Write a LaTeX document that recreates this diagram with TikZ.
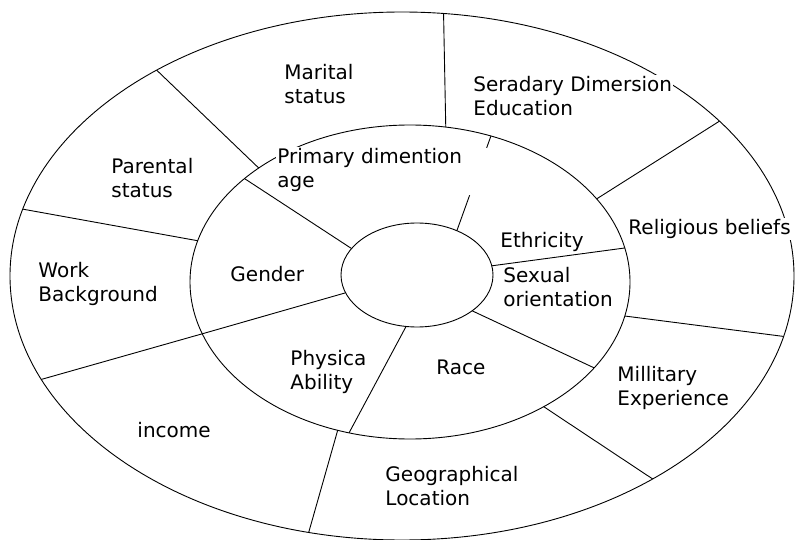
\documentclass[tikz,border=0pt]{standalone}
\usepackage{fontspec}
\setmainfont{DejaVu Sans}
\usetikzlibrary{shapes.geometric,calc}
\begin{document}
\begin{tikzpicture}[x=1pt,y=-1pt,line width=0.9pt,
    ring/.style={draw,ellipse,inner sep=0pt,outer sep=0pt},
    lbl/.style={fill=white,inner sep=1pt,align=left,anchor=west,font=\fontsize{20}{24}\selectfont}]
\useasboundingbox (0,0) rectangle (795,540);
\node[ring,minimum width=784pt,minimum height=528pt] (outer) at (402,276) {};
\node[ring,minimum width=440pt,minimum height=314pt] (middle) at (410,282) {};
\node[ring,minimum width=152pt,minimum height=104pt] (inner) at (417,275) {};
\draw (outer.140.6) -- (middle.143.3);
\draw (outer.81.4) -- (middle.77.3);
\draw (outer.26) -- (middle.24.8);
\draw (outer.-9) -- (middle.-9.5);
\draw (outer.-39.2) -- (middle.-43);
\draw (outer.-110.2) -- (middle.-116.9);
\draw (outer.-164.3) -- (middle.-166.7);
\draw (outer.170.5) -- (middle.169.7);
\draw (middle.148.3) -- (inner.158.1);
\draw (middle.-166.7) -- (inner.-166);
\draw (middle.-112.6) -- (inner.-102.8);
\draw (middle.-25.7) -- (inner.-33.2);
\draw (middle.9.2) -- (inner.7.7);
\draw (inner.48.5) -- ($(inner.48.5)!.375!(middle.61.9)$);
\draw ($(inner.48.5)!.875!(middle.61.9)$) -- (middle.61.9);
\node[lbl] (marital) at (283,84) {Marital\\status};
\node[lbl] (parental) at (110,178) {Parental\\status};
\node[lbl] (primary) at (276,170) {Primary dimention\\age};
\node[lbl] (seradary) at (472,96) {Seradary Dimersion\\Education};
\node[lbl] (religious) at (627,229) {Religious beliefs};
\node[lbl] (ethricity) at (499,242) {Ethricity};
\node[lbl] (sexual) at (502,287) {Sexual\\orientation};
\node[lbl] (gender) at (229,274) {Gender};
\node[lbl] (work) at (37,284) {Work\\Background};
\node[lbl] (physica) at (289,372) {Physica\\Ability};
\node[lbl] (race) at (435,367) {Race};
\node[lbl] (millitary) at (616,388) {Millitary\\Experience};
\node[lbl] (income) at (136,430) {income};
\node[lbl] (geographical) at (384,486) {Geographical\\Location};
\end{tikzpicture}
\end{document}
